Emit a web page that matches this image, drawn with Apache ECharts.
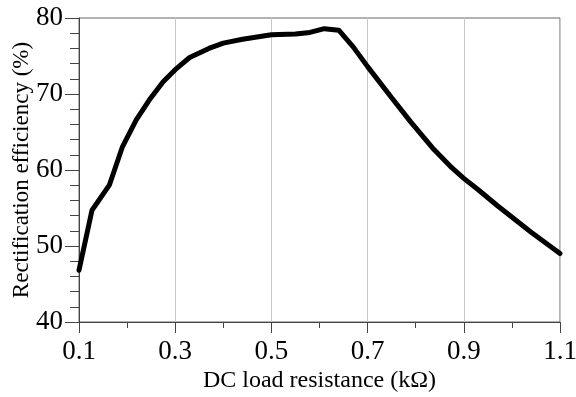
<!DOCTYPE html>
<html>
<head>
<meta charset="utf-8">
<script src="https://cdn.jsdelivr.net/npm/echarts@6/dist/echarts.min.js"></script>
<style>html,body{margin:0;padding:0;background:#fff}#c{width:576px;height:397px}</style>
</head>
<body>
<div id="c"></div>
<script>
const xValues = [0.1, 0.127, 0.163, 0.19, 0.219, 0.246, 0.275, 0.3, 0.33, 0.37, 0.40, 0.44, 0.50, 0.55, 0.58, 0.61, 0.64, 0.67, 0.70, 0.75, 0.79, 0.835, 0.875, 0.90, 0.93, 0.97, 1.04, 1.1];
const efficiency = [46.8, 54.7, 58.0, 63.0, 66.6, 69.2, 71.6, 73.2, 74.8, 76.0, 76.7, 77.2, 77.8, 77.9, 78.1, 78.6, 78.4, 76.2, 73.6, 69.5, 66.3, 62.9, 60.3, 58.9, 57.4, 55.3, 51.8, 49.0];
const xTitle = 'DC load resistance (kΩ)';
const yTitle = 'Rectification efficiency (%)';

const font = 'Liberation Serif';
const chart = echarts.init(document.getElementById('c'), null, {renderer: 'canvas'});
chart.setOption({
  animation: false,
  backgroundColor: '#fff',
  grid: {left: 79, right: 16, top: 18, bottom: 75, outerBoundsMode: 'none', containLabel: false, show: true, borderColor: '#666', borderWidth: 1},
  xAxis: {
    type: 'value', min: 0.1, max: 1.1, interval: 0.2,
    name: xTitle, nameLocation: 'middle', nameGap: 47, nameMoveOverlap: false,
    nameTextStyle: {fontFamily: font, fontSize: 24, color: '#000'},
    axisLine: {show: true, lineStyle: {color: '#444', width: 1}},
    axisTick: {show: true, length: 11, lineStyle: {color: '#444'}},
    minorTick: {show: true, splitNumber: 2, length: 6, lineStyle: {color: '#444'}},
    axisLabel: {fontFamily: font, fontSize: 27, color: '#000', margin: 16, formatter: v => v.toFixed(1)},
    splitLine: {show: true, lineStyle: {color: '#c8c8c8', width: 1}}
  },
  yAxis: {
    type: 'value', min: 40, max: 80, interval: 10,
    name: yTitle, nameLocation: 'middle', nameGap: 46, nameMoveOverlap: false,
    nameTextStyle: {fontFamily: font, fontSize: 23, color: '#000'},
    axisLine: {show: true, lineStyle: {color: '#444', width: 1}},
    axisTick: {show: true, length: 14, lineStyle: {color: '#444'}},
    minorTick: {show: true, splitNumber: 5, length: 9, lineStyle: {color: '#444'}},
    axisLabel: {fontFamily: font, fontSize: 27, color: '#000', margin: 16},
    splitLine: {show: false}
  },
  series: [{
    type: 'line',
    data: xValues.map((x, i) => [x, efficiency[i]]),
    showSymbol: false,
    smooth: false,
    lineStyle: {color: '#000', width: 5, cap: 'round', join: 'round'}
  }]
});
</script>
</body>
</html>
